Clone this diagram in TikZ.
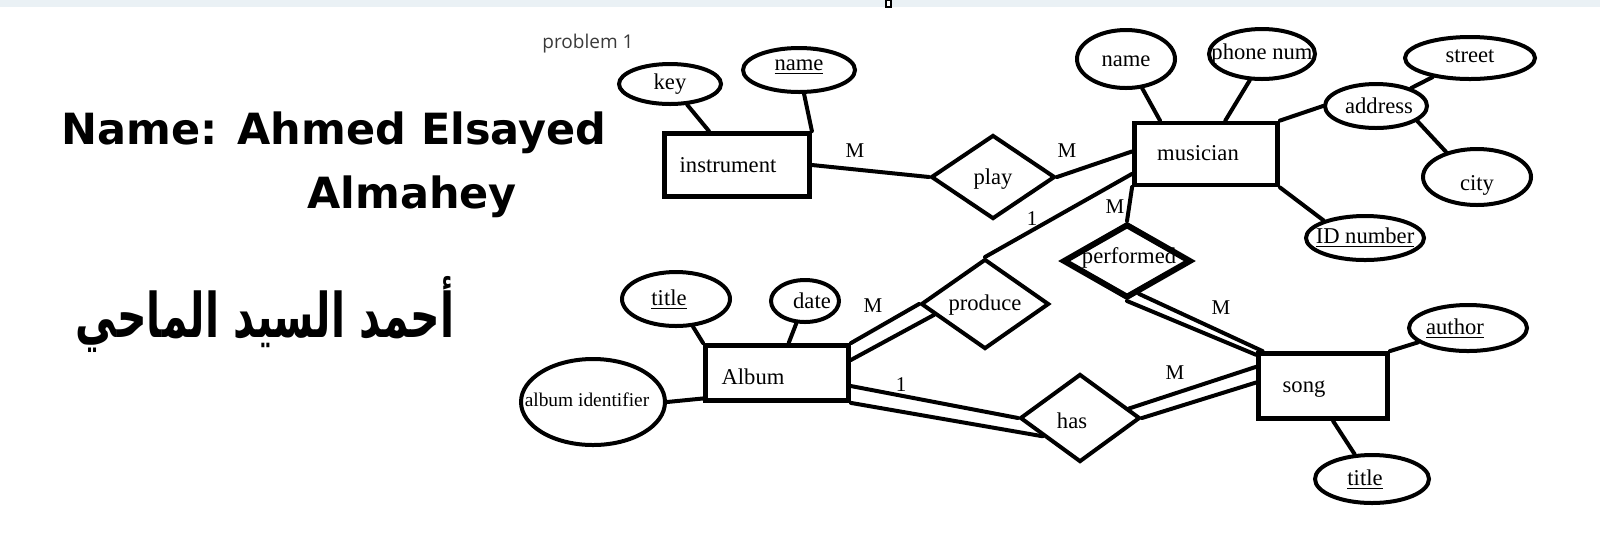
\documentclass[tikz,border=0pt]{standalone}
\usepackage{fontspec}
\setmainfont{Liberation Serif}
\newfontfamily\uifont{Open Sans}
\newfontfamily\handfont{DejaVu Sans}
\newfontfamily\arabicfont[Script=Arabic]{DejaVu Sans}
\TeXXeTstate=1
\usepackage{xcolor}
\usetikzlibrary{shapes.geometric}
\definecolor{barfill}{HTML}{EAF1F5}
\definecolor{uigray}{HTML}{3A3A3A}

\begin{document}
\begin{tikzpicture}[x=0.5pt, y=-0.5pt,
		ent/.style = {draw, rectangle, line width=2.4pt, inner sep=0pt},
		attr/.style = {draw, ellipse, line width=2pt, inner sep=0pt},
		rel/.style = {draw, diamond, line width=2pt, inner sep=0pt},
		lbl/.style = {font=\fontsize{11.3}{13}\selectfont, inner sep=0pt},
		card/.style = {font=\fontsize{10.5}{12}\selectfont, inner sep=0pt},
		link/.style = {line width=2pt, line cap=round},
		hand/.style = {font=\handfont\bfseries\fontsize{21.5}{26}\selectfont, inner sep=0pt}]
			\useasboundingbox (0,0) rectangle (1600,559);

			% top bar of the window
			\fill[barfill] (0,0) rectangle (1600,7);
			\draw[line width=0.6pt, fill=white] (886,0) rectangle (891,7);

			\node[font=\uifont\fontsize{9.5}{11}\selectfont, text=uigray, inner sep=0pt] (prob) at (588,44) {problem 1};

			\node[hand, anchor=west] (hname) at (61,133) {Name: Ahmed Elsayed};
			\node[hand] (hsur) at (412,197) {Almahey};
			\node[font=\arabicfont\bfseries\fontsize{20.5}{26}\selectfont, inner sep=0pt] (harab) at (265,314) {\scalebox{1}[1.5]{\beginR أحمد السيد الماحي\endR}};

			% entities
			\node[ent, minimum width=72.5pt, minimum height=31.5pt] (instr) at (737,165) {};
			\node[ent, minimum width=71.5pt, minimum height=31pt] (mus) at (1206,154) {};
			\node[ent, minimum width=71.5pt, minimum height=27.5pt] (album) at (777,373) {};
			\node[ent, minimum width=64.5pt, minimum height=32.5pt] (song) at (1323,386) {};

			% relations
			\node[rel, minimum width=62pt, minimum height=42pt] (play) at (993,177) {};
			\node[rel, line width=3pt, minimum width=64pt, minimum height=37pt] (perf) at (1127,261) {};
			\node[rel, minimum width=64pt, minimum height=45pt] (prod) at (985,304) {};
			\node[rel, minimum width=60pt, minimum height=44pt] (has) at (1080,418) {};

			% attributes
			\node[attr, minimum width=51pt, minimum height=20pt] (key) at (670,84) {};
			\node[attr, minimum width=56pt, minimum height=22pt] (iname) at (799,70) {};
			\node[attr, minimum width=49pt, minimum height=29pt] (mname) at (1126,59) {};
			\node[attr, minimum width=53pt, minimum height=25pt] (phone) at (1262,54) {};
			\node[attr, minimum width=51pt, minimum height=22pt] (addr) at (1376,106) {};
			\node[attr, minimum width=65pt, minimum height=21pt] (street) at (1470,58) {};
			\node[attr, minimum width=54pt, minimum height=28pt] (city) at (1477,177) {};
			\node[attr, minimum width=59pt, minimum height=22pt] (idnum) at (1365,238) {};
			\node[attr, minimum width=54pt, minimum height=27pt] (atitle) at (676,299) {};
			\node[attr, minimum width=34pt, minimum height=21pt] (date) at (805,301) {};
			\node[attr, minimum width=72pt, minimum height=43pt] (albid) at (593,402) {};
			\node[attr, minimum width=59pt, minimum height=23pt] (author) at (1468,328) {};
			\node[attr, minimum width=57pt, minimum height=24pt] (stitle) at (1372,479) {};

			% texts
			\node[lbl] (t-instr) at (728,165) {instrument};
			\node[lbl] (t-mus) at (1198,153) {musician};
			\node[lbl] (t-album) at (753,377) {Album};
			\node[lbl] (t-song) at (1304,389) {song};
			\node[lbl] (t-play) at (993,179) {play};
			\node[lbl] (t-perf) at (1129,258) {performed};
			\node[lbl] (t-prod) at (985,305) {produce};
			\node[lbl] (t-has) at (1072,421) {has};
			\node[lbl] (t-key) at (670,84) {key};
			\node[lbl] (t-iname) at (799,67) {\underline{name}};
			\node[lbl] (t-mname) at (1126,61) {name};
			\node[lbl] (t-phone) at (1262,54) {phone num};
			\node[lbl] (t-addr) at (1379,106) {address};
			\node[lbl] (t-street) at (1470,56) {street};
			\node[lbl] (t-city) at (1477,185) {city};
			\node[lbl] (t-idnum) at (1365,238) {\underline{ID number}};
			\node[lbl] (t-atitle) at (669,300) {\underline{title}};
			\node[lbl] (t-date) at (812,301) {date};
			\node[lbl, font=\fontsize{9.7}{12}\selectfont] (t-albid) at (587,400) {album identifier};
			\node[lbl] (t-author) at (1455,329) {\underline{author}};
			\node[lbl] (t-stitle) at (1365,480) {\underline{title}};

			% cardinalities
			\node[card] (c1) at (855,151) {M};
			\node[card] (c2) at (1067,151) {M};
			\node[card] (c3) at (1032,219) {1};
			\node[card] (c4) at (1115,207) {M};
			\node[card] (c5) at (873,306) {M};
			\node[card] (c6) at (901,385) {1};
			\node[card] (c7) at (1175,373) {M};
			\node[card] (c8) at (1221,308) {M};

			% connectors
			\begin{scope}[link]
				\draw (key) -- (instr);
				\draw (iname) -- (instr.north east);
				\draw (instr.east) -- (play.west);
				\draw (play.east) -- (mus.178);
				\draw (mus.195) -- (prod.north);
				\draw (mus.204.5) -- (perf.north);
				\draw (perf.south) -- (song.155);
				\draw (perf.-70) -- (song.150);
				\draw (prod.west) -- (album.north east);
				\draw (prod.192) -- (album.10);
				\draw (album.-10) -- (has.west);
				\draw (album.south east) -- (has.-154);
				\draw (has.11) -- (song.164);
				\draw (has.east) -- (song.177);
				\draw (atitle) -- (album.north west);
				\draw (date) -- (album);
				\draw (albid.east) -- (album.199);
				\draw (mname) -- (mus.144);
				\draw (phone.-115) -- (mus.60);
				\draw (mus.north east) -- (addr.west);
				\draw (addr) -- (street);
				\draw (addr.-20) -- (city.141);
				\draw (mus.south east) -- (idnum.157);
				\draw (song.north east) -- (author.196);
				\draw (song.-74) -- (stitle.125);
			\end{scope}
		\end{tikzpicture}
\end{document}
